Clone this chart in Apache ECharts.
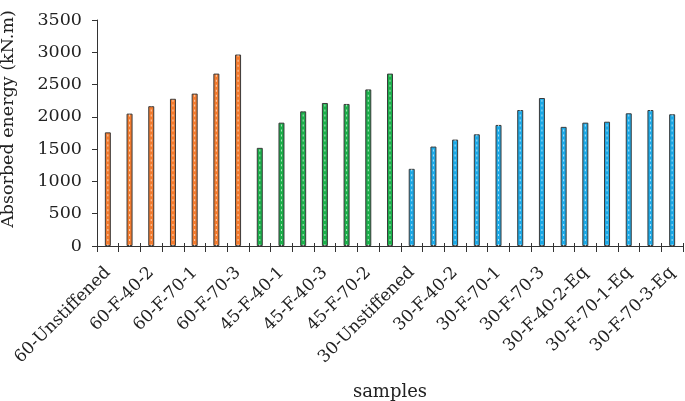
<!DOCTYPE html>
<html><head><meta charset="utf-8">
<script src="https://cdn.jsdelivr.net/npm/echarts@6/dist/echarts.min.js"></script>
<style>html,body{margin:0;padding:0;background:#fff}#c{width:685px;height:401px}</style>
</head><body><div id="c"></div>
<script>
const categories = [
  '60-Unstiffened','60-F-40-1','60-F-40-2','60-F-40-3','60-F-70-1','60-F-70-2','60-F-70-3',
  '45-Unstiffened','45-F-40-1','45-F-40-2','45-F-40-3','45-F-70-1','45-F-70-2','45-F-70-3',
  '30-Unstiffened','30-F-40-1','30-F-40-2','30-F-40-3','30-F-70-1','30-F-70-2','30-F-70-3',
  '30-F-40-1-Eq','30-F-40-2-Eq','30-F-40-3-Eq','30-F-70-1-Eq','30-F-70-2-Eq','30-F-70-3-Eq'
];
const energy60 = [1760, 2050, 2165, 2280, 2360, 2670, 2965];
const energy45 = [1520, 1910, 2085, 2215, 2200, 2425, 2670];
const energy30 = [1195, 1540, 1648, 1730, 1875, 2106, 2292, 1845, 1910, 1925, 2055, 2106, 2040];
const yTicks = [0, 500, 1000, 1500, 2000, 2500, 3000, 3500];

const colors = {'60': '#F37B2E', '45': '#1BAF4A', '30': '#1CA9E6'};
const values = energy60.concat(energy45, energy30);
const barData = values.map((v, i) => ({
  value: v,
  itemStyle: {color: colors[categories[i].slice(0, 2)]}
}));

const font = 'DejaVu Serif';
const chart = echarts.init(document.getElementById('c'), null, {renderer: 'canvas'});
chart.setOption({
  animation: false,
  grid: {left: 97, right: 2, top: 20, bottom: 155, containLabel: false, outerBoundsMode: 'none'},
  xAxis: [{
    type: 'category',
    data: categories,
    boundaryGap: true,
    name: 'samples',
    nameLocation: 'middle',
    nameGap: 137,
    nameTextStyle: {fontFamily: font, fontSize: 18, color: '#222'},
    axisLine: {lineStyle: {color: '#333', width: 1}},
    axisTick: {show: true, length: 6, lineStyle: {color: '#333'}, interval: 0},
    axisLabel: {rotate: 45, interval: 1, fontFamily: font, fontSize: 17, color: '#222', margin: 24, padding: [20, 0, 0, 0]}
  }, {
    type: 'category',
    data: categories,
    position: 'bottom',
    boundaryGap: true,
    axisLine: {show: false},
    axisTick: {show: true, inside: true, length: 3, lineStyle: {color: '#333'}, interval: 0},
    axisLabel: {show: false}
  }],
  yAxis: {
    type: 'value',
    min: yTicks[0], max: yTicks[yTicks.length - 1], interval: 500,
    name: 'Absorbed energy (kN.m)',
    nameLocation: 'middle',
    nameGap: 80,
    nameTextStyle: {fontFamily: font, fontSize: 17.5, color: '#222', padding: [0, 0, 0, 28]},
    axisLine: {show: true, lineStyle: {color: '#333'}},
    axisTick: {show: true, length: 5, lineStyle: {color: '#333'}},
    axisLabel: {fontFamily: font, fontSize: 17.5, color: '#222', margin: 15, formatter: v => String(v)},
    splitLine: {show: false}
  },
  series: [{
    type: 'bar',
    data: barData,
    barWidth: 6,
    itemStyle: {borderColor: '#3a3a3a', borderWidth: 1}
  }, {
    type: 'pictorialBar',
    data: values,
    barGap: '-100%',
    symbol: 'rect',
    symbolSize: [1, 2],
    symbolRepeat: true,
    symbolMargin: 1.5,
    symbolClip: true,
    itemStyle: {color: 'rgba(255,255,255,0.65)'},
    z: 3
  }]
});
</script></body></html>
